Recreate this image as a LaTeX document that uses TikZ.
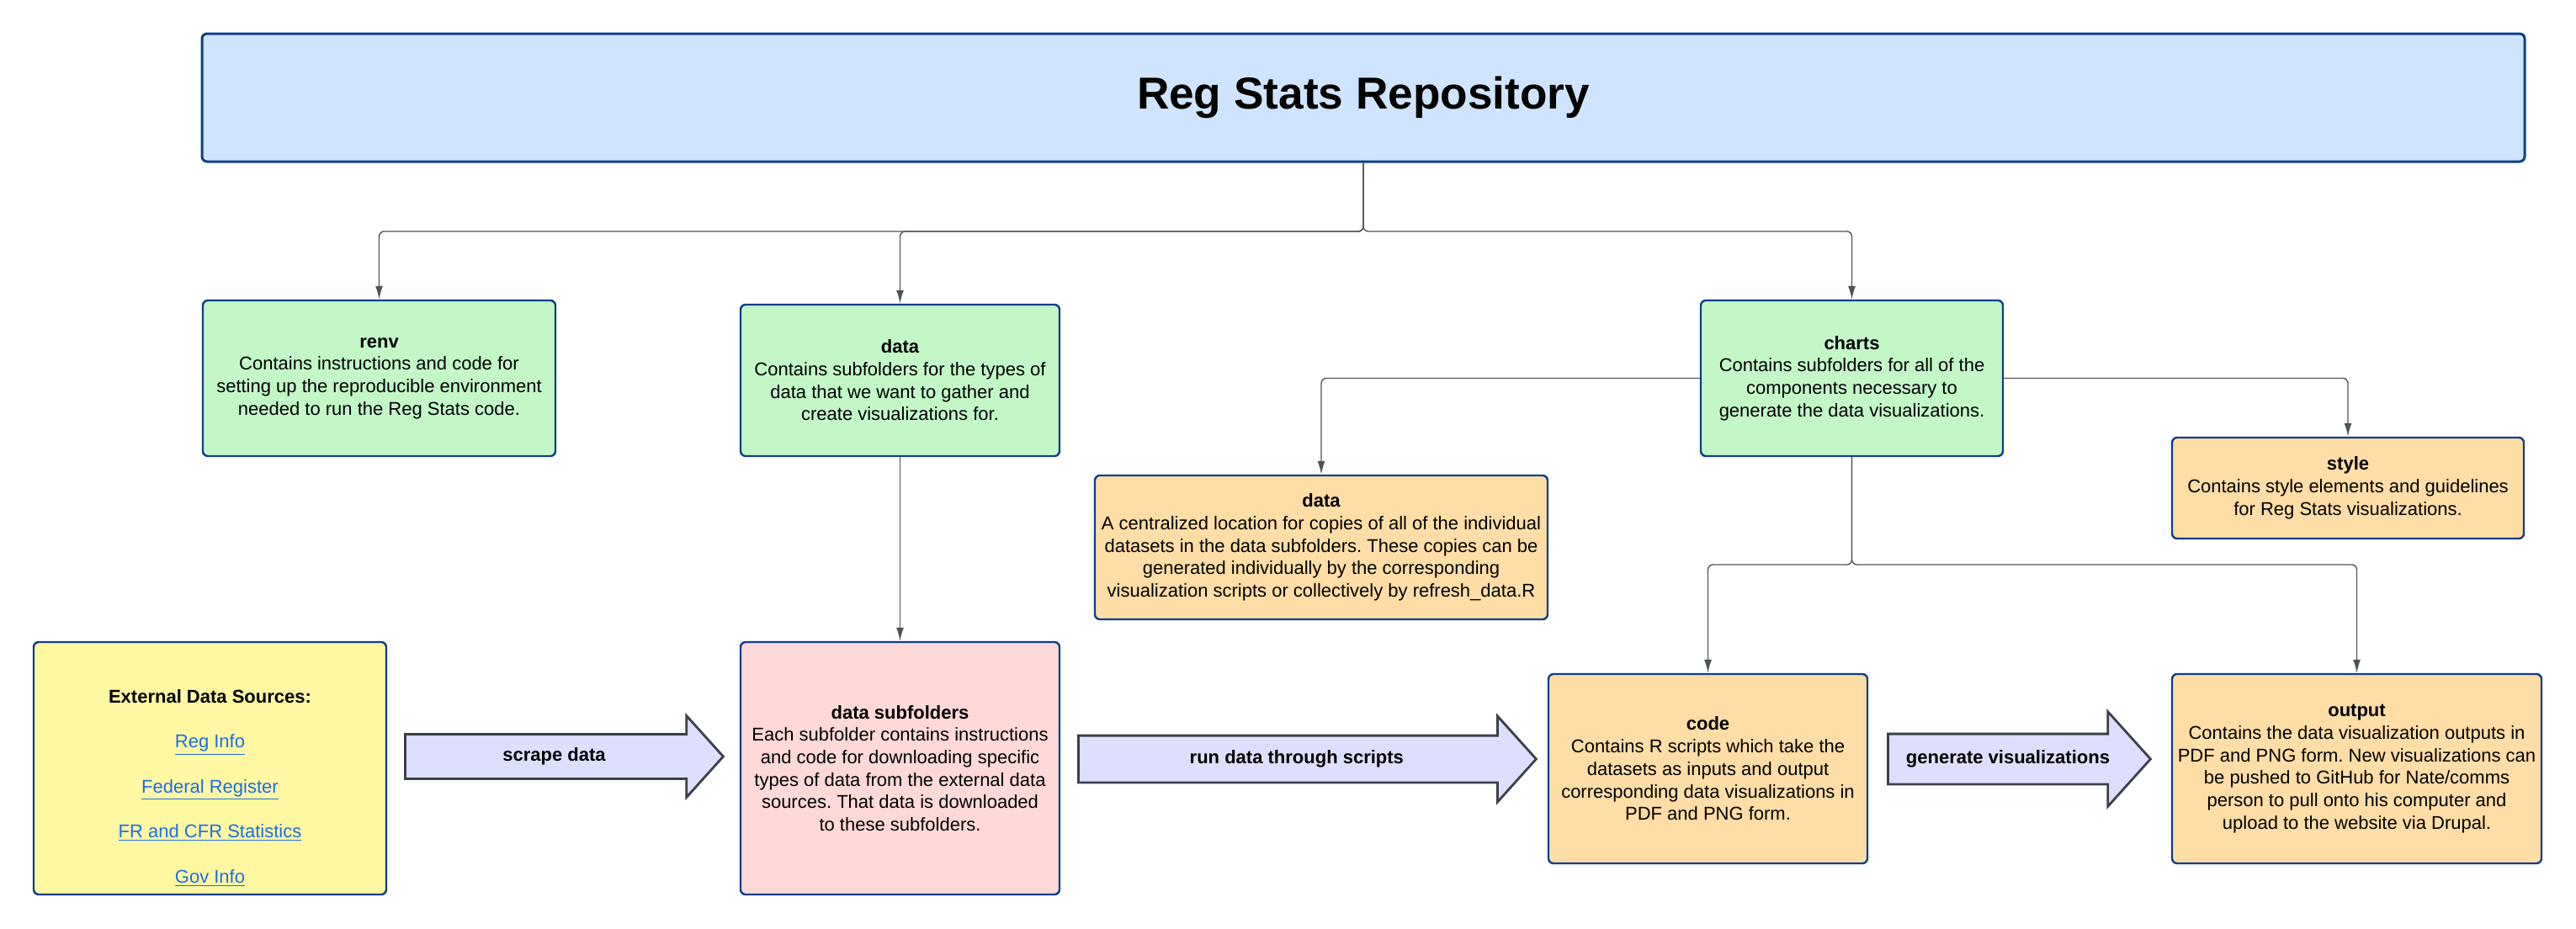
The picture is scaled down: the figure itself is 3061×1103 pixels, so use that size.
\documentclass[tikz,border=0pt]{standalone}
\usepackage{fontspec}
\setmainfont{Liberation Sans}
\frenchspacing
\usetikzlibrary{shapes.arrows,arrows.meta}

\definecolor{rs-RepoColor}{HTML}{CFE4FF}
\definecolor{rs-FolderColor}{HTML}{C3F7C8}
\definecolor{rs-SubColor}{HTML}{FFDDA6}
\definecolor{rs-SourceColor}{HTML}{FFF7A1}
\definecolor{rs-DownloadColor}{HTML}{FFD8D8}
\definecolor{rs-FlowColor}{HTML}{DEDEFF}
\definecolor{rs-FlowDrawColor}{HTML}{3A414A}
\definecolor{rs-BorderColor}{HTML}{0E3E8A}
\definecolor{rs-LineColor}{HTML}{4F545C}
\definecolor{rs-LinkColor}{HTML}{1A6FE6}
\tikzstyle{rs-box-base}=[rectangle,
                         draw={rs-BorderColor},
                         line width=1.2pt,
                         rounded corners=3pt,
                         align=center,
                         inner sep=0pt,
                         font=\fontsize{11}{13.35}\selectfont,
                        ]
\tikzstyle{rs-repo}=[rs-box-base,
                     fill={rs-RepoColor},
                     line width=1.5pt,
                     font=\fontsize{26.6}{32}\selectfont\bfseries]
\tikzstyle{rs-folder}=[rs-box-base,
                       fill={rs-FolderColor}]
\tikzstyle{rs-sub}=[rs-box-base,
                    fill={rs-SubColor}]
\tikzstyle{rs-source}=[rs-box-base,
                       fill={rs-SourceColor}]
\tikzstyle{rs-download}=[rs-box-base,
                         fill={rs-DownloadColor}]
\tikzstyle{rs-flow}=[single arrow,
                     anchor=tail,
                     draw={rs-FlowDrawColor},
                     fill={rs-FlowColor},
                     line width=1.4pt,
                     single arrow tip angle=96,
                     inner xsep=0pt,
                     text height=8pt, text depth=2.5pt,
                     font=\fontsize{11}{13.35}\selectfont\bfseries]
\tikzstyle{rs-link}=[-{Latex[length=8pt,width=4.5pt]},
                     draw={rs-LineColor},
                     line width=0.7pt,
                     rounded corners=3pt]
\newcommand{\rsweb}[1]{\textcolor{rs-LinkColor}{\underline{#1}}}

\begin{document}
\begin{tikzpicture}[x=0.5pt, y=-0.5pt]
    \useasboundingbox (0,0) rectangle (3061,1103);
    % Repository
    % --------------------------------------------------------------------------
    \node at (1620, 116) (repo) [rs-repo, minimum width=1380pt, minimum height=76pt] {Reg Stats Repository};

    % Folders
    % ------------------------------------------------------------------------
    \node at (450.5, 449.5) (renv) [rs-folder, minimum width=209.5pt, minimum height=92.5pt]
        {\textbf{renv}\\Contains instructions and code for\\setting up the reproducible environment\\needed to run the Reg Stats code.};
    \node at (1069.5, 452) (data) [rs-folder, minimum width=189.5pt, minimum height=90pt]
        {\textbf{data}\\Contains subfolders for the types of\\data that we want to gather and\\create visualizations for.};
    \node at (2200.5, 449.5) (charts) [rs-folder, minimum width=179.5pt, minimum height=92.5pt]
        {\textbf{charts}\\Contains subfolders for all of the\\components necessary to\\generate the data visualizations.};

    % ------------------------------------------------------------------------
    \node at (1570, 650.5) (charts_data) [rs-sub, minimum width=269pt, minimum height=85.5pt]
        {\textbf{data}\\A centralized location for copies of all of the individual\\datasets in the data subfolders. These copies can be\\generated individually by the corresponding\\visualization scripts or collectively by refresh\_data.R};
    \node at (2790, 580) (style) [rs-sub, minimum width=209pt, minimum height=60pt]
        {\textbf{style}\\Contains style elements and guidelines\\for Reg Stats visualizations.};

    % ------------------------------------------------------------------------
    \node at (249.5, 913) (sources) [rs-source, minimum width=209.5pt, minimum height=150pt]
        {\mbox{}\\[18pt]\textbf{External Data Sources:}\\[13.35pt]
         \rsweb{Reg Info}\\[13.35pt]
         \rsweb{Federal Register}\\[13.35pt]
         \rsweb{FR and CFR Statistics}\\[13.35pt]
         \rsweb{Gov Info}};
    \node at (1069.5, 913) (subfolders) [rs-download, minimum width=189.5pt, minimum height=150pt]
        {\textbf{data subfolders}\\Each subfolder contains instructions\\and code for downloading specific\\types of data from the external data\\sources. That data is downloaded\\to these subfolders.};
    \node at (2029.5, 913.5) (code) [rs-sub, minimum width=189.5pt, minimum height=112.5pt]
        {\textbf{code}\\Contains R scripts which take the\\datasets as inputs and output\\corresponding data visualizations in\\PDF and PNG form.};
    \node at (2800.5, 913.5) (output) [rs-sub, minimum width=219.5pt, minimum height=112.5pt]
        {\textbf{output}\\Contains the data visualization outputs in\\PDF and PNG form. New visualizations can\\be pushed to GitHub for Nate/comms\\person to pull onto his computer and\\upload to the website via Drupal.};

    % Flow arrows
    % --------------------------------------------------------------------------
    \node at (480, 899) (scrape) [rs-flow, minimum height=189pt, inner ysep=7.25pt,
                                  single arrow head extend=11pt] {scrape data};
    \node at (1280, 902) (run) [rs-flow, minimum height=272pt, inner ysep=8pt,
                                single arrow head extend=11.5pt] {run data through scripts};
    \node at (2242, 902) (generate) [rs-flow, minimum height=156pt, inner ysep=9pt,
                                     single arrow head extend=13.25pt] {generate visualizations};

    % Arrows
    % --------------------------------------------------------------------------
    \coordinate (repo_split) at (1620, 275);
    \coordinate (charts_split) at (2200.5, 671);

    \draw[rs-link] (repo.south) -- (repo_split) -| (renv.north);
    \draw[rs-link] (repo.south) -- (repo_split) -| (data.north);
    \draw[rs-link] (repo.south) -- (repo_split) -| (charts.north);

    \draw[rs-link] (charts.west) -| (charts_data.north);
    \draw[rs-link] (charts.east) -| (style.north);

    \draw[rs-link] (charts.south) -- (charts_split) -| (code.north);
    \draw[rs-link] (charts.south) -- (charts_split) -| (output.north);

    \draw[rs-link] (data.south) -- (subfolders.north);

\end{tikzpicture}
\end{document}
